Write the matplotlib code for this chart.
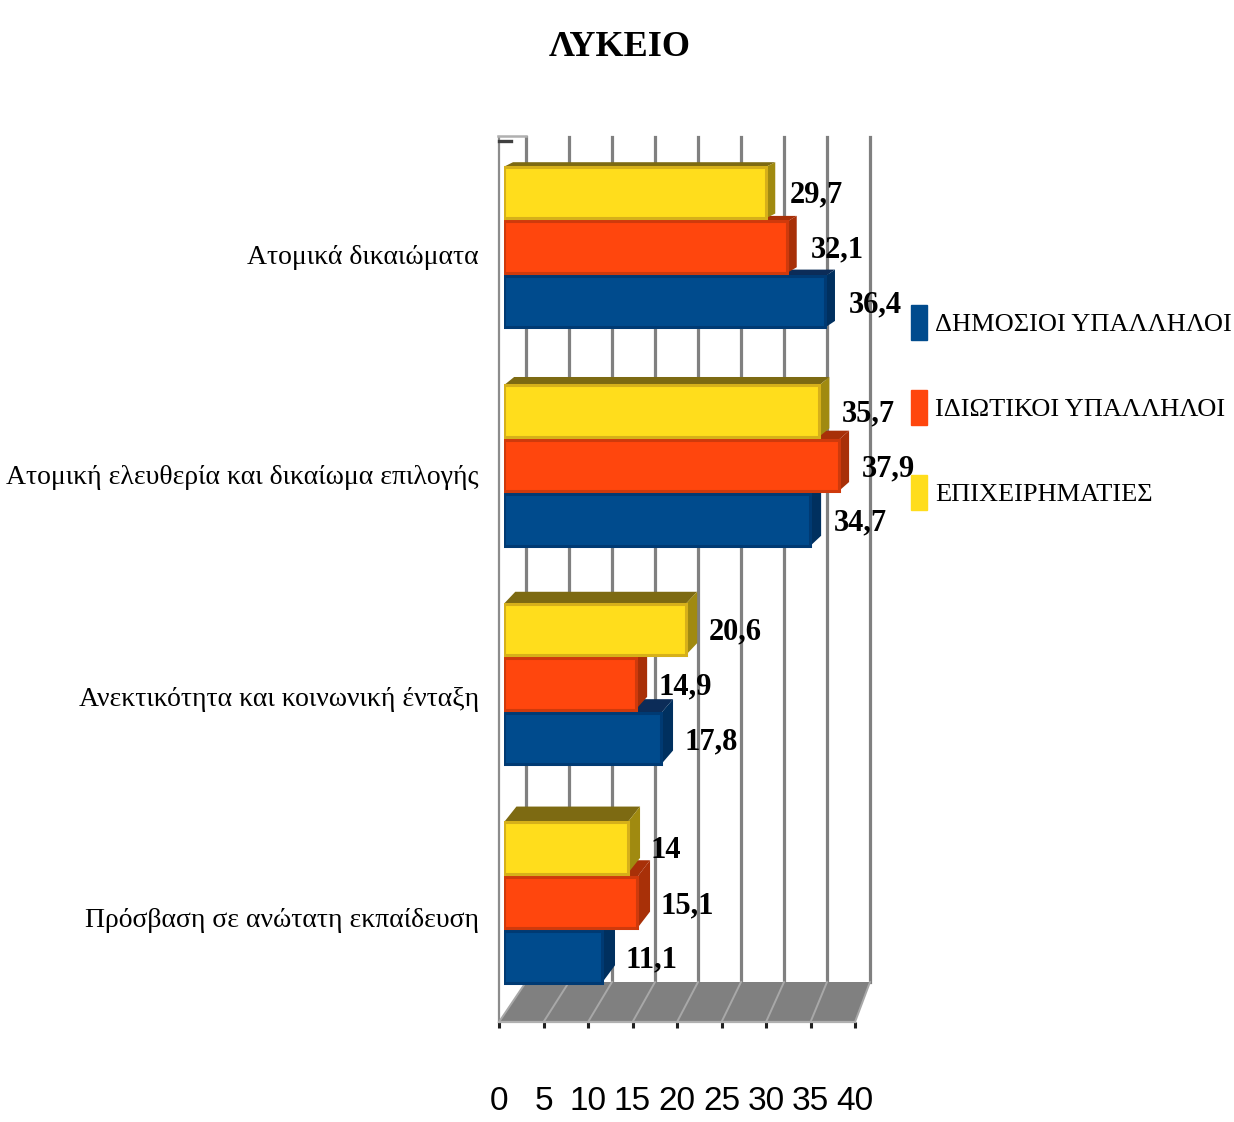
import matplotlib
matplotlib.use('Agg')
import matplotlib.pyplot as plt
from matplotlib.lines import Line2D
from matplotlib.patches import Patch, Polygon
from matplotlib.transforms import Affine2D

categories = ['Ατομικά δικαιώματα',
              'Ατομική ελευθερία και δικαίωμα επιλογής',
              'Ανεκτικότητα και κοινωνική ένταξη',
              'Πρόσβαση σε ανώτατη εκπαίδευση']
dimosioi = [36.4, 34.7, 17.8, 11.1]
idiotikoi = [32.1, 37.9, 14.9, 15.1]
epixeirimaties = [29.7, 35.7, 20.6, 14]
series_names = ['ΔΗΜΟΣΙΟΙ ΥΠΑΛΛΗΛΟΙ', 'ΙΔΙΩΤΙΚΟΙ ΥΠΑΛΛΗΛΟΙ', 'ΕΠΙΧΕΙΡΗΜΑΤΙΕΣ']
x_ticks = [0, 5, 10, 15, 20, 25, 30, 35, 40]

W, H = 1234, 1122
SERIF = ['Liberation Serif', 'DejaVu Serif']
GRID = '#808080'

fig = plt.figure(figsize=(W / 100, H / 100), dpi=100)


def px_axes(left, right, top, bottom, **kw):
    # axes placed by pixel box, y counted from the top of the picture
    return fig.add_axes([left / W, 1 - bottom / H, (right - left) / W, (bottom - top) / H], **kw)


# back wall
wall = px_axes(526, 870, 137, 982, zorder=1)
wall.set_xlim(0, 40)
wall.set_ylim(0, 1)
wall.set_xticks(x_ticks)
wall.set_yticks([])
wall.grid(axis='x', color=GRID, lw=2.3)
wall.tick_params(length=0, labelbottom=False)
for s in wall.spines.values():
    s.set_visible(False)
for tick_line in wall.get_xgridlines():
    tick_line.set_clip_on(False)

# floor, x scale of the front edge
floor = px_axes(499, 855, 982, 1022, zorder=2)
floor.patch.set_alpha(0)
floor.set_xlim(0, 40)
floor.set_ylim(0, 1)
for s in floor.spines.values():
    s.set_visible(False)


def back_x(v):
    return (27 + v * 8.6) / 8.9


floor.add_patch(Polygon([(0, 0), (40, 0), (back_x(40), 1), (back_x(0), 1)],
                        facecolor=GRID, edgecolor='none', clip_on=False))
for v in x_ticks:
    floor.plot([v, back_x(v)], [0, 1], color='#a8a8a8', lw=1.4, clip_on=False)
floor.plot([0, 40], [0, 0], color='#b0b0b0', lw=1.6, clip_on=False)
floor.set_xticks(x_ticks)
floor.set_yticks([])
floor.tick_params(axis='x', length=4, width=2.2, color='#202020', pad=42)
floor.set_xticklabels([str(v) for v in x_ticks], fontsize=24, family='Liberation Sans')

# left wall edge and the small corner at its top
fig.add_artist(Line2D([498.5 / W, 498.5 / W], [1 - 137 / H, 1 - 1022 / H], color='#8c8c8c', lw=1.6))
fig.add_artist(Line2D([498 / W, 526 / W], [1 - 135.5 / H, 1 - 135.5 / H], color='#b0b0b0', lw=1.8))
fig.add_artist(Line2D([499 / W, 511 / W], [1 - 141 / H, 1 - 141 / H], color='#404040', lw=2.4))

# bars, value scale 8.83 px per unit, groups 218.5 px apart
ax = px_axes(504, 857.2, 137, 1022, zorder=3)
ax.patch.set_alpha(0)
ax.set_xlim(0, 40)
ax.set_ylim((1022 - 247) / 218.5, (137 - 247) / 218.5)
for s in ax.spines.values():
    s.set_visible(False)
ax.set_xticks([])

styles = [
    (dimosioi, 0.25, '#004b8d', '#003a73', '#00305f', '#0c2c58', series_names[0]),
    (idiotikoi, 0.0, '#ff460d', '#cf3a0c', '#a83008', '#a83008', series_names[1]),
    (epixeirimaties, -0.25, '#ffdd1c', '#d6b01a', '#a08a10', '#7d6a12', series_names[2]),
]
bar_h = 0.235

for vals, off, face, edge, side, top, name in styles:
    for i, v in enumerate(vals):
        y = i + off
        t = y - bar_h / 2
        b = y + bar_h / 2
        frac = (y + 0.25) / 3.5
        dx = (9 + 4 * frac) / 8.83
        dy = (4.5 + 13 * frac) / 218.5
        ax.add_patch(Polygon([(0, t), (dx, t - dy), (v + dx, t - dy), (v, t)],
                             facecolor=top, edgecolor='none', zorder=3))
        ax.add_patch(Polygon([(v, t), (v + dx, t - dy), (v + dx, b - dy), (v, b)],
                             facecolor=side, edgecolor='none', zorder=3))
        ax.barh(y, v, height=bar_h, color=face, edgecolor=edge, linewidth=2.2, zorder=3)
        label = str(v).replace('.', ',')
        ax.annotate(label, (v, y), xytext=(23, -3), textcoords='offset pixels',
                    va='center', ha='left', fontsize=22, fontweight='bold',
                    family=SERIF, color='black', zorder=6, annotation_clip=False)

ax.set_yticks(range(len(categories)))
ax.set_yticklabels(categories, fontsize=20, family=SERIF)
ax.tick_params(axis='y', length=0, pad=18)
for lab, drop in zip(ax.get_yticklabels(), [8, 9, 12, 15]):
    lab.set_transform(lab.get_transform() + Affine2D().translate(0, -drop))

fig.text(620 / W, 1 - 47 / H, 'ΛΥΚΕΙΟ', fontsize=26, fontweight='bold', family=SERIF,
         ha='center', va='center')

handles = [Patch(color=s[2]) for s in styles]
fig.legend(handles, series_names, loc='upper left', bbox_to_anchor=(911 / W, 1 - 305 / H),
           frameon=False, prop={'family': SERIF, 'size': 19},
           handlelength=0.6, handleheight=1.66, handletextpad=0.3,
           labelspacing=1.9, borderpad=0, borderaxespad=0)

plt.savefig('out.png', dpi=100)
